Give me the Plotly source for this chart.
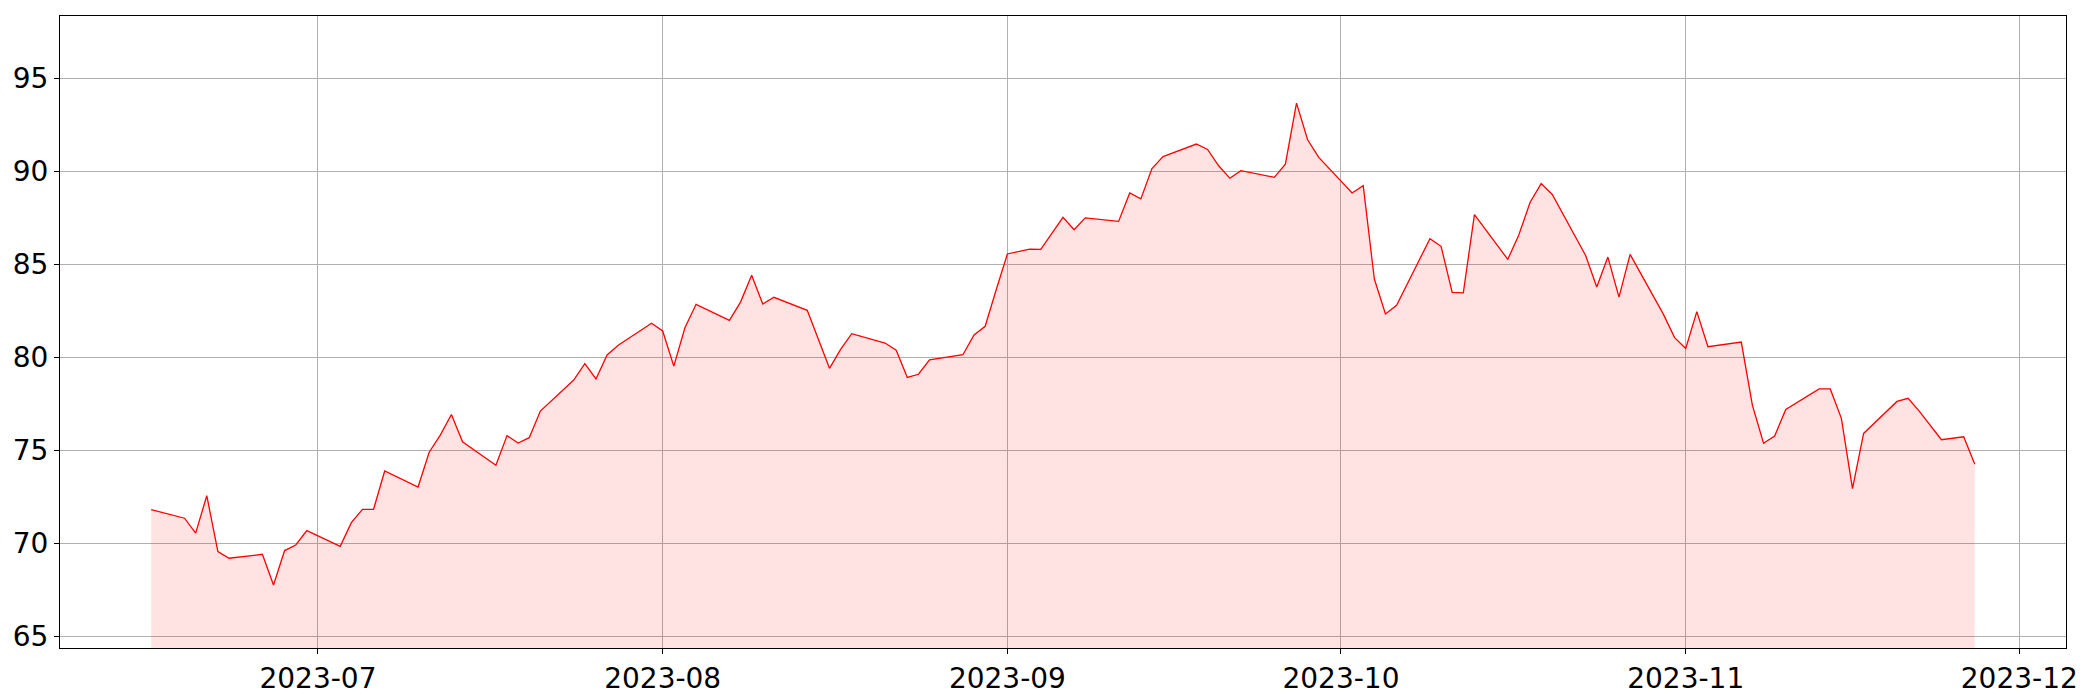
import pandas as pd
import plotly.graph_objects as go

dates = [
    "2023-06-16", "2023-06-19", "2023-06-20", "2023-06-21", "2023-06-22", "2023-06-23",
    "2023-06-26", "2023-06-27", "2023-06-28", "2023-06-29", "2023-06-30",
    "2023-07-03", "2023-07-04", "2023-07-05", "2023-07-06", "2023-07-07",
    "2023-07-10", "2023-07-11", "2023-07-12", "2023-07-13", "2023-07-14",
    "2023-07-17", "2023-07-18", "2023-07-19", "2023-07-20", "2023-07-21",
    "2023-07-24", "2023-07-25", "2023-07-26", "2023-07-27", "2023-07-28",
    "2023-07-31", "2023-08-01", "2023-08-02", "2023-08-03", "2023-08-04",
    "2023-08-07", "2023-08-08", "2023-08-09", "2023-08-10", "2023-08-11",
    "2023-08-14", "2023-08-15", "2023-08-16", "2023-08-17", "2023-08-18",
    "2023-08-21", "2023-08-22", "2023-08-23", "2023-08-24", "2023-08-25",
    "2023-08-28", "2023-08-29", "2023-08-30", "2023-08-31", "2023-09-01",
    "2023-09-03", "2023-09-04", "2023-09-05", "2023-09-06", "2023-09-07", "2023-09-08",
    "2023-09-11", "2023-09-12", "2023-09-13", "2023-09-14", "2023-09-15",
    "2023-09-18", "2023-09-19", "2023-09-20", "2023-09-21", "2023-09-22",
    "2023-09-25", "2023-09-26", "2023-09-27", "2023-09-28", "2023-09-29",
    "2023-10-02", "2023-10-03", "2023-10-04", "2023-10-05", "2023-10-06",
    "2023-10-09", "2023-10-10", "2023-10-11", "2023-10-12", "2023-10-13",
    "2023-10-16", "2023-10-17", "2023-10-18", "2023-10-19", "2023-10-20",
    "2023-10-23", "2023-10-24", "2023-10-25", "2023-10-26", "2023-10-27",
    "2023-10-30", "2023-10-31", "2023-11-01", "2023-11-02", "2023-11-03",
    "2023-11-06", "2023-11-07", "2023-11-08", "2023-11-09", "2023-11-10",
    "2023-11-13", "2023-11-14", "2023-11-15", "2023-11-16", "2023-11-17",
    "2023-11-20", "2023-11-21", "2023-11-22", "2023-11-23", "2023-11-24",
    "2023-11-26", "2023-11-27",
]

values = [
    71.81, 71.35, 70.55, 72.56, 69.56, 69.20,
    69.41, 67.76, 69.61, 69.91, 70.68,
    69.84, 71.11, 71.83, 71.83, 73.89,
    73.03, 74.90, 75.82, 76.93, 75.46,
    74.20, 75.79, 75.39, 75.68, 77.11,
    78.78, 79.66, 78.84, 80.13, 80.65,
    81.83, 81.42, 79.53, 81.59, 82.85,
    81.99, 82.97, 84.41, 82.87, 83.23,
    82.53, 80.97, 79.41, 80.43, 81.27,
    80.77, 80.38, 78.92, 79.09, 79.86,
    80.14, 81.20, 81.67, 83.65, 85.56,
    85.82, 85.81, 86.67, 87.53, 86.86, 87.50,
    87.31, 88.84, 88.52, 90.15, 90.79,
    91.47, 91.18, 90.30, 89.63, 90.04,
    89.68, 90.39, 93.67, 91.70, 90.75,
    88.84, 89.23, 84.21, 82.33, 82.80,
    86.38, 85.97, 83.49, 83.47, 87.67,
    85.27, 86.59, 88.33, 89.34, 88.76,
    85.48, 83.78, 85.39, 83.24, 85.54,
    82.31, 81.06, 80.48, 82.46, 80.57,
    80.82, 77.42, 75.38, 75.77, 77.20,
    78.30, 78.30, 76.72, 72.94, 75.91,
    77.63, 77.80, 77.11, 76.36, 75.57,
    75.73, 74.25,
]

x_tick_vals = ["2023-07-01", "2023-08-01", "2023-09-01", "2023-10-01", "2023-11-01", "2023-12-01"]
x_tick_labels = ["2023-07", "2023-08", "2023-09", "2023-10", "2023-11", "2023-12"]
y_tick_vals = [65, 70, 75, 80, 85, 90, 95]

ts = pd.to_datetime(pd.Series(dates))
span = ts.max() - ts.min()
x_lo = ts.min() - 0.05 * span
x_hi = ts.max() + 0.05 * span
y_lo = min(values) * 0.95
y_hi = max(values) * 1.05

fig = go.Figure()
fig.add_trace(go.Scatter(
    x=dates, y=values, mode="lines",
    line=dict(color="red", width=1.3),
    fill="tozeroy", fillcolor="rgba(255,0,0,0.11)",
    showlegend=False,
))

axis_common = dict(
    showline=True, mirror=True, linecolor="black", linewidth=1.1,
    showgrid=True, gridcolor="#b0b0b0", gridwidth=1.1,
    ticks="outside", ticklen=5, tickwidth=1.1, tickcolor="black",
    zeroline=False,
    tickfont=dict(family="DejaVu Sans", size=28, color="black"),
)

fig.update_layout(
    width=2100, height=700,
    margin=dict(l=52, r=42, t=8, b=60, autoexpand=False),
    paper_bgcolor="white", plot_bgcolor="white",
    xaxis=dict(type="date", range=[x_lo.isoformat(), x_hi.isoformat()],
               tickmode="array", tickvals=x_tick_vals, ticktext=x_tick_labels,
               **axis_common),
    yaxis=dict(range=[y_lo, y_hi], tickmode="array", tickvals=y_tick_vals,
               **axis_common),
)

fig.write_html("out.html")
